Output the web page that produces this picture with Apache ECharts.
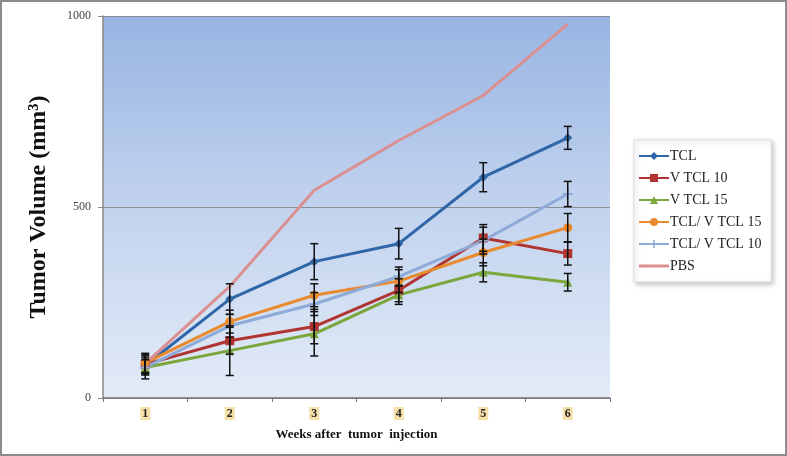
<!DOCTYPE html>
<html>
<head>
<meta charset="utf-8">
<script src="https://cdn.jsdelivr.net/npm/echarts@6/dist/echarts.min.js"></script>
<style>
html, body { margin: 0; padding: 0; background: #fff; }
#box { width: 787px; height: 456px; box-sizing: border-box; border: 2px solid #8c8c8c; }
</style>
</head>
<body>
<div id="box"></div>
<script>
// categories: weeks after injection
const weeks = ["1", "2", "3", "4", "5", "6"]
const seriesNames = ["TCL", "V TCL 10", "V TCL 15", "TCL/ V TCL 15", "TCL/ V TCL 10", "PBS"]
// mean tumor volume (mm3)
const tcl = [85, 259, 357, 404, 578, 681]
const vtcl10 = [88, 150, 187, 282, 419, 378]
const vtcl15 = [80, 124, 168, 270, 329, 303]
const tclVtcl15 = [92, 200, 269, 306, 381, 446]
const tclVtcl10 = [80, 189, 246, 318, 412, 534]
const pbs = [90, 292, 544, 674, 792, 979]
// error (+/-)
const tclErr = [20, 40, 47, 40, 38, 30]
const vtcl10Err = [25, 35, 45, 30, 35, 30]
const vtcl15Err = [30, 65, 58, 25, 25, 23]
const tclVtcl15Err = [25, 30, 30, 30, 35, 37]
const tclVtcl10Err = [20, 30, 30, 25, 35, 33]
const yTicks = [0, 500, 1000]

const colors = ["#2f66a8", "#b03532", "#7aa63c", "#ea8a2e", "#8eaad8", "#da9090"]
const symbols = ["diamond", "rect", "triangle", "circle",
	"path://M4,0 L6,0 L6,4 L10,4 L10,6 L6,6 L6,10 L4,10 L4,6 L0,6 L0,4 L4,4 Z", "none"]
const values = [tcl, vtcl10, vtcl15, tclVtcl15, tclVtcl10, pbs]
const errs = [tclErr, vtcl10Err, vtcl15Err, tclVtcl15Err, tclVtcl10Err, null]

let myCharts = echarts.init(document.getElementById("box"))

let series = []
values.forEach((v, i) => {
	series.push({
		name: seriesNames[i],
		type: "line",
		data: v,
		symbol: symbols[i],
		symbolSize: i === 4 ? 10 : 9,
		showSymbol: symbols[i] !== "none",
		lineStyle: { color: colors[i], width: 3 },
		itemStyle: { color: colors[i] },
		z: 3,
	})
})
errs.forEach((e, i) => {
	if (!e) return
	series.push({
		name: "err" + i,
		type: "custom",
		z: 4,
		data: values[i].map((v, k) => [k, v - e[k], v + e[k]]),
		renderItem: function (params, api) {
			let lo = api.coord([api.value(0), api.value(1)])
			let hi = api.coord([api.value(0), api.value(2)])
			let w = 4
			let st = { stroke: "#111", lineWidth: 1.5 }
			return {
				type: "group",
				children: [
					{ type: "line", shape: { x1: lo[0], y1: lo[1], x2: hi[0], y2: hi[1] }, style: st },
					{ type: "line", shape: { x1: lo[0] - w, y1: lo[1], x2: lo[0] + w, y2: lo[1] }, style: st },
					{ type: "line", shape: { x1: hi[0] - w, y1: hi[1], x2: hi[0] + w, y2: hi[1] }, style: st },
				],
			}
		},
	})
})

// legend entries, PBS shows only a line
let legendData = seriesNames.map((n, i) =>
	i === 5 ? { name: n, icon: "path://M0,0 L30,0 L30,3 L0,3 Z" } : { name: n })

let option = {
	animation: false,
	grid: {
		left: 101,
		right: 175,
		top: 14,
		bottom: 56,
		show: true,
		borderWidth: 0,
		backgroundColor: {
			type: "linear", x: 0, y: 0, x2: 0, y2: 1,
			colorStops: [
				{ offset: 0, color: "#97b4e2" },
				{ offset: 0.5, color: "#c2d3ee" },
				{ offset: 1, color: "#e3ebf7" },
			],
		},
	},
	legend: {
		orient: "vertical",
		left: 632,
		top: 138,
		data: legendData,
		itemWidth: 30,
		itemHeight: 10,
		itemGap: 8,
		padding: [9, 10, 9, 4],
		backgroundColor: "#fff",
		borderColor: "#ddd",
		borderWidth: 1,
		shadowColor: "rgba(0,0,0,0.25)",
		shadowBlur: 5,
		shadowOffsetX: 2,
		shadowOffsetY: 2,
		textStyle: { fontFamily: "Liberation Serif", fontSize: 14, color: "#222", padding: [0, 0, 0, -4] },
	},
	xAxis: {
		type: "category",
		data: weeks,
		boundaryGap: true,
		name: "Weeks after  tumor  injection",
		nameLocation: "middle",
		nameGap: 30,
		nameTextStyle: { fontFamily: "Liberation Serif", fontWeight: "bold", fontSize: 13, color: "#111" },
		axisLine: { lineStyle: { color: "#777", width: 1.5 } },
		axisTick: { show: true, alignWithLabel: false, length: 4, lineStyle: { color: "#777" } },
		axisLabel: {
			fontFamily: "Liberation Serif",
			fontWeight: "bold",
			fontSize: 12,
			color: "#222",
			margin: 9,
			backgroundColor: "#f6dfa8",
			padding: [1, 2, 0, 2],
		},
	},
	yAxis: {
		type: "value",
		min: 0,
		max: 1000,
		interval: 500,
		name: "Tumor Volume (mm³)",
		nameLocation: "middle",
		nameGap: 52,
		nameTextStyle: { fontFamily: "Liberation Serif", fontWeight: "bold", fontSize: 24, color: "#111" },
		axisLine: { show: true, lineStyle: { color: "#888", width: 1.5 } },
		axisTick: { show: true, length: 5, lineStyle: { color: "#888" } },
		axisLabel: {
			fontFamily: "Liberation Serif",
			fontSize: 12,
			color: "#444",
			margin: 12,
			formatter: v => (yTicks.indexOf(v) >= 0 ? String(v) : ""),
		},
		splitLine: { show: true, lineStyle: { color: "#8a8f96", width: 1 } },
	},
	series: series,
}
myCharts.setOption(option)
</script>
</body>
</html>
